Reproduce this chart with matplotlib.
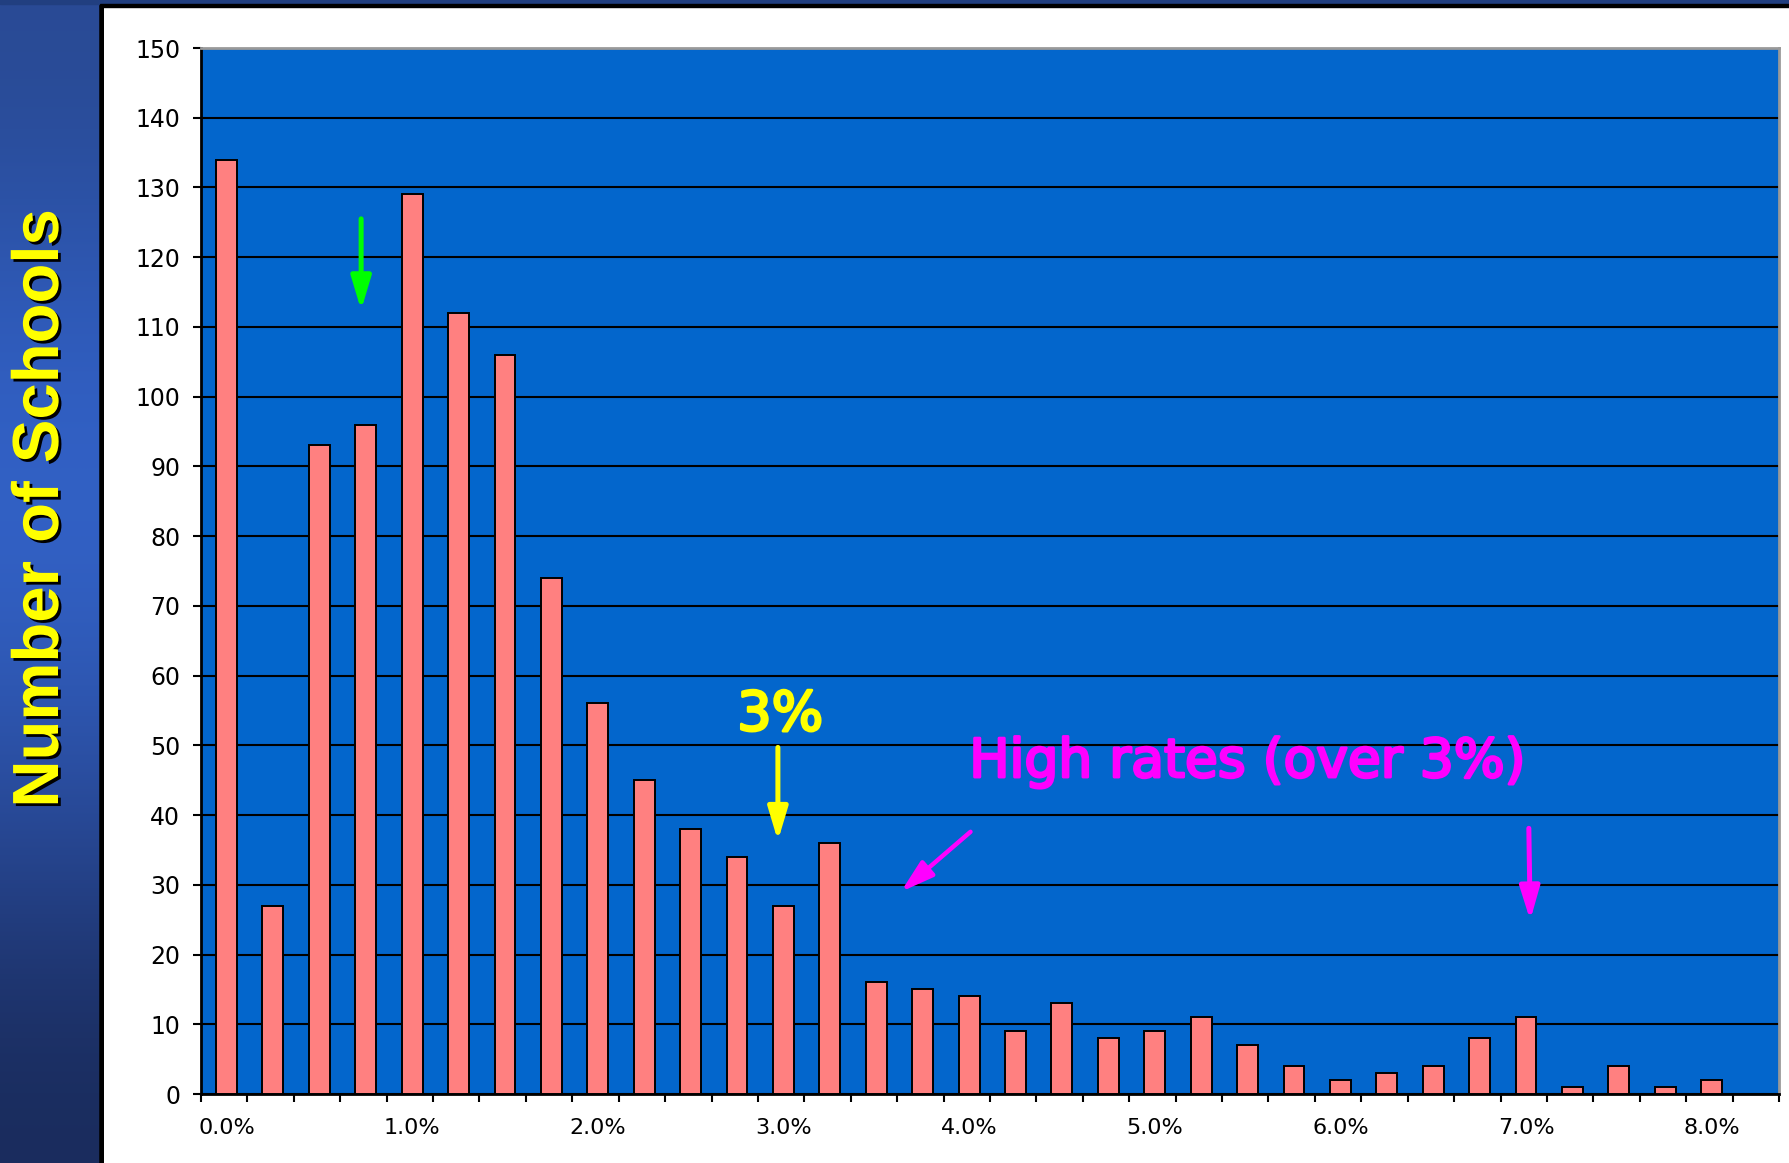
import numpy as np
import matplotlib
matplotlib.use("Agg")
from matplotlib import pyplot as plt
from matplotlib import patheffects as pe
from matplotlib.patches import Rectangle

plt.rcParams['font.family'] = ['DejaVu Sans']

# dropout rate bins (%) and number of schools in each bin
rates = [0.00, 0.25, 0.50, 0.75, 1.00, 1.25, 1.50, 1.75, 2.00, 2.25, 2.50,
         2.75, 3.00, 3.25, 3.50, 3.75, 4.00, 4.25, 4.50, 4.75, 5.00, 5.25,
         5.50, 5.75, 6.00, 6.25, 6.50, 6.75, 7.00, 7.25, 7.50, 7.75, 8.00]
schools = [134, 27, 93, 96, 129, 112, 106, 74, 56, 45, 38,
           34, 27, 36, 16, 15, 14, 9, 13, 8, 9, 11,
           7, 4, 2, 3, 4, 8, 11, 1, 4, 1, 2]
y_ticks = [0, 10, 20, 30, 40, 50, 60, 70, 80, 90, 100, 110, 120, 130, 140, 150]

W, H = 1790, 1163
fig = plt.figure(figsize=(W / 100, H / 100), dpi=100)
fig.patch.set_facecolor('white')

# left gradient strip
strip = fig.add_axes([0, 0, 104 / W, 1])
grad = np.array([[0.16, 0.29, 0.58], [0.19, 0.37, 0.76], [0.20, 0.39, 0.79],
                 [0.16, 0.29, 0.60], [0.10, 0.17, 0.36]])
strip.imshow(grad[:, None, :], aspect='auto', interpolation='bicubic',
             extent=[0, 1, 0, 1])
strip.set_axis_off()
strip.axvline(0.98, color='black', lw=4)

# thin dark band + black border on top of the white panel
fig.patches.append(Rectangle((0, 1 - 4 / H), 1, 4 / H, transform=fig.transFigure,
                             color='#213f80', zorder=5))
fig.patches.append(Rectangle((100 / W, 1 - 7 / H), 1, 3 / H, transform=fig.transFigure,
                             color='black', zorder=5))

ax = fig.add_axes([201 / W, 69 / H, 1578 / W, 1046 / H])
ax.set_facecolor('#0366cc')
x = np.arange(len(rates))
ax.bar(x + 0.05, schools, width=0.45, color='#ff8080', edgecolor='black', linewidth=1.4, zorder=3)

ax.set_ylim(0, 150)
ax.set_xlim(-0.5, len(rates) + 0.5)
ax.set_yticks(y_ticks)
ax.yaxis.grid(True, color='black', linewidth=1.5, zorder=1)
ax.tick_params(axis='y', length=6, width=1.5, labelsize=17, pad=9)

ax.set_xticks(x[::4] + 0.05)
ax.set_xticklabels([f'{r:.1f}%' for r in rates[::4]])
ax.set_xticks(np.arange(len(rates) + 2) - 0.5, minor=True)
ax.tick_params(axis='x', which='major', length=0, labelsize=16, pad=17)
ax.tick_params(axis='x', which='minor', length=6, width=1.5)

for s in ['left', 'bottom']:
    ax.spines[s].set_linewidth(2)
for s in ['top', 'right']:
    ax.spines[s].set_color('#999999')
    ax.spines[s].set_linewidth(2)

fig.text(41 / W, 1 - 509 / H, 'Number of Schools', rotation=90, color='#ffff00',
         fontsize=47, fontweight='bold', family=['Liberation Sans', 'DejaVu Sans'],
         ha='center', va='center',
         path_effects=[pe.withSimplePatchShadow(offset=(2, -2), shadow_rgbFace='black', alpha=1)])

# annotations
head = '-|>,head_length=2.0,head_width=0.6'
ax.annotate('', xy=(2.95, 112.4), xytext=(2.95, 125.5),
            arrowprops=dict(arrowstyle=head, color='#00ff00', lw=3.6, shrinkA=0, shrinkB=0))
ax.text(11.98, 54.3, '3%', color='#ffff00', fontsize=39,
        ha='center', va='center',
        path_effects=[pe.withStroke(linewidth=2, foreground='#ffff00')])
ax.annotate('', xy=(11.93, 36.3), xytext=(11.93, 49.7),
            arrowprops=dict(arrowstyle=head, color='#ffff00', lw=3.6, shrinkA=0, shrinkB=0))
ax.text(22.05, 47.6, 'High rates (over 3%)', color='#ff00ff', fontsize=38.5,
        ha='center', va='center',
        path_effects=[pe.withStroke(linewidth=2, foreground='#ff00ff')])
ax.annotate('', xy=(14.58, 29.0), xytext=(16.08, 37.6),
            arrowprops=dict(arrowstyle=head, color='#ff00ff', lw=3.2, shrinkA=0, shrinkB=0))
ax.annotate('', xy=(28.14, 24.9), xytext=(28.11, 38.1),
            arrowprops=dict(arrowstyle=head, color='#ff00ff', lw=3.6, shrinkA=0, shrinkB=0))

fig.savefig('out.png', dpi=100)
